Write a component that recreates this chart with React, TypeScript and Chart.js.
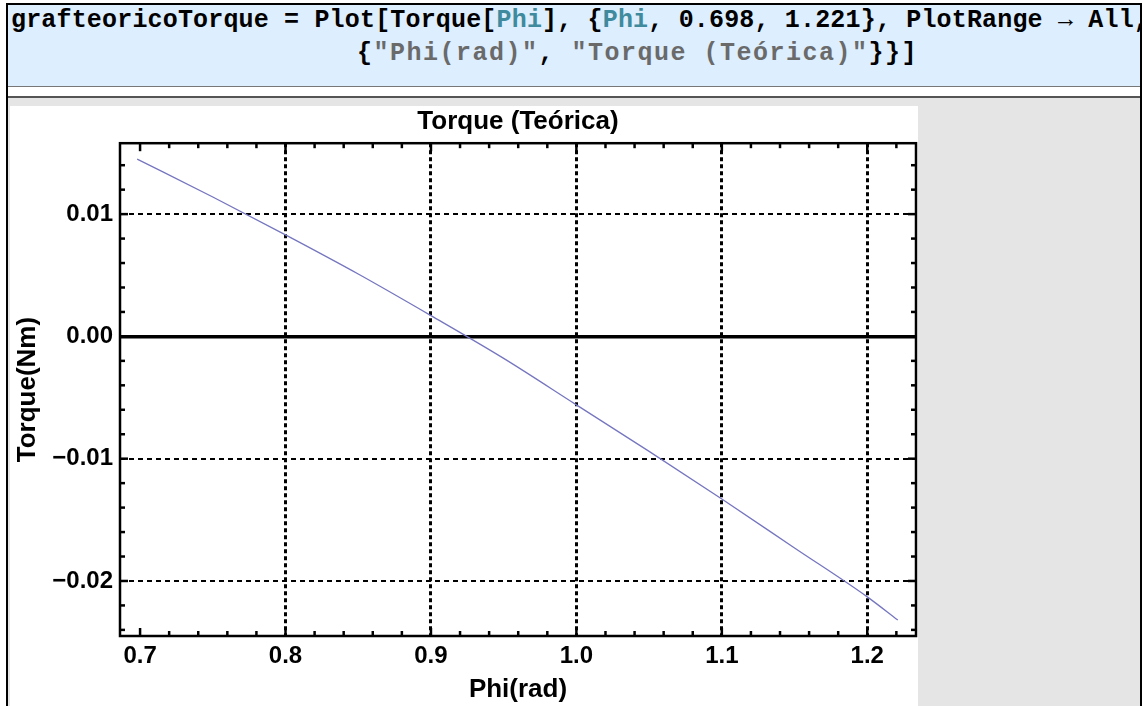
import React, { useEffect, useRef } from "react";
import { Chart, registerables } from "chart.js";

Chart.register(...registerables);

// ---- data ----
const phiValues = [0.698, 0.75, 0.8, 0.85, 0.9, 0.95, 1.0, 1.05, 1.1, 1.15, 1.2, 1.221];
const torqueValues = [0.0145, 0.0114, 0.0083, 0.0051, 0.0017, -0.0018, -0.0056, -0.0094, -0.0133, -0.0173, -0.0213, -0.0232];

const xTickValues = [0.7, 0.8, 0.9, 1.0, 1.1, 1.2];
const xTickLabels = ["0.7", "0.8", "0.9", "1.0", "1.1", "1.2"];
const yTickValues = [-0.02, -0.01, 0, 0.01];
const yTickLabels = ["\u22120.02", "\u22120.01", "0.00", "0.01"];
const xRange = [0.6862, 1.2335];
const yRange = [-0.0245, 0.0158];
const xMinorStep = 0.02;
const yMinorStep = 0.002;

const chartTitle = "Torque (Teórica)";
const xTitle = "Phi(rad)";
const yTitle = "Torque(Nm)";

const FONT = "'Liberation Sans', Arial, sans-serif";

const isMajor = (list: number[], v: number) => list.some((m) => Math.abs(m - v) < 1e-9);

const framePlugin = {
  id: "mmaFrame",
  afterDraw(chart: any) {
    const { ctx, chartArea: a, scales } = chart;
    const xs = scales.x;
    const ys = scales.y;
    ctx.save();
    ctx.strokeStyle = "#000";
    ctx.lineCap = "butt";
    ctx.lineWidth = 2.5;
    const seg = (x1: number, y1: number, x2: number, y2: number) => {
      ctx.beginPath();
      ctx.moveTo(x1, y1);
      ctx.lineTo(x2, y2);
      ctx.stroke();
    };
    for (let k = Math.ceil(xs.min / xMinorStep - 1e-9); k * xMinorStep <= xs.max + 1e-12; k++) {
      const v = k * xMinorStep;
      const px = xs.getPixelForValue(v);
      const len = isMajor(xTickValues, v) ? 8 : 5;
      seg(px, a.bottom, px, a.bottom - len);
      seg(px, a.top, px, a.top + len);
    }
    for (let k = Math.ceil(ys.min / yMinorStep - 1e-9); k * yMinorStep <= ys.max + 1e-12; k++) {
      const v = k * yMinorStep;
      const py = ys.getPixelForValue(v);
      const len = isMajor(yTickValues, v) ? 8 : 5;
      seg(a.left, py, a.left + len, py);
      seg(a.right, py, a.right - len, py);
    }
    ctx.lineWidth = 2.5;
    ctx.strokeRect(a.left, a.top, a.right - a.left, a.bottom - a.top);
    ctx.restore();
  },
};

function TorqueChart() {
  const ref = useRef<HTMLCanvasElement | null>(null);
  useEffect(() => {
    if (!ref.current) return;
    const chart = new Chart(ref.current, {
      type: "line",
      data: {
        datasets: [
          {
            data: phiValues.map((x, i) => ({ x, y: torqueValues[i] })),
            borderColor: "#7676c0",
            borderWidth: 1.3,
            pointRadius: 0,
            fill: false,
            cubicInterpolationMode: "monotone",
          },
        ],
      },
      options: {
        animation: false,
        responsive: false,
        events: [],
        layout: { padding: { left: 0, right: 2, top: 0, bottom: 0 } },
        plugins: {
          legend: { display: false },
          tooltip: { enabled: false },
          title: {
            display: true,
            fullSize: false,
            text: chartTitle,
            color: "#000",
            font: { family: FONT, size: 26, weight: "bold" },
            padding: { top: 0, bottom: 6 },
          },
        },
        scales: {
          x: {
            type: "linear",
            min: xRange[0],
            max: xRange[1],
            afterBuildTicks: (scale: any) => {
              scale.ticks = xTickValues.map((value) => ({ value }));
            },
            afterFit: (scale: any) => {
              scale.height = 70;
            },
            ticks: {
              autoSkip: false,
              maxRotation: 0,
              padding: 6,
              color: "#000",
              font: { family: FONT, size: 24, weight: "bold" },
              callback: (_v: any, i: number) => xTickLabels[i],
            },
            grid: {
              drawTicks: false,
              lineWidth: 3,
              color: (c: any) => (c.tick && Math.abs(c.tick.value - 0.7) < 1e-9 ? "rgba(0,0,0,0)" : "#000"),
            },
            border: { display: false, dash: [4, 3] },
            title: {
              display: true,
              text: xTitle,
              color: "#000",
              font: { family: FONT, size: 26, weight: "bold" },
              padding: { top: 0, bottom: 1 },
            },
          },
          y: {
            type: "linear",
            min: yRange[0],
            max: yRange[1],
            afterBuildTicks: (scale: any) => {
              scale.ticks = yTickValues.map((value) => ({ value }));
            },
            afterFit: (scale: any) => {
              scale.width = 110;
            },
            ticks: {
              autoSkip: false,
              padding: 7,
              color: "#000",
              font: { family: FONT, size: 24, weight: "bold" },
              callback: (_v: any, i: number) => yTickLabels[i],
            },
            grid: {
              drawTicks: false,
              color: "#000",
              lineWidth: (c: any) => (c.tick && c.tick.value === 0 ? 3.5 : 2),
            },
            border: {
              display: false,
              dash: (c: any) => (c.tick && c.tick.value === 0 ? [] : [5, 4]),
            },
            title: {
              display: true,
              text: yTitle,
              color: "#000",
              font: { family: FONT, size: 26, weight: "bold" },
              padding: { top: 2, bottom: 0 },
            },
          },
        },
      },
      plugins: [framePlugin],
    } as any);
    return () => chart.destroy();
  }, []);
  return <canvas ref={ref} width={908} height={600} style={{ display: "block", width: 908, height: 600 }} />;
}

const MONO = "'Liberation Mono', 'Courier New', monospace";
const teal = "#3f8a9c";
const grey = "#6a6a6a";

export default function App() {
  return (
    <div style={{ position: "absolute", left: 0, top: 0, width: 1145, height: 706, overflow: "hidden", background: "#fff" }}>
      {/* outer cell border */}
      <div style={{ position: "absolute", left: 6, top: 3, width: 1136, height: 710, background: "#000" }} />
      {/* input cell (light blue) */}
      <div
        style={{
          position: "absolute",
          left: 8,
          top: 5,
          width: 1132,
          height: 81,
          background: "#ddeeff",
          borderBottom: "1px solid #777",
          overflow: "hidden",
          fontFamily: MONO,
          fontWeight: "bold",
          fontSize: 25,
          lineHeight: "33px",
          color: "#000",
          whiteSpace: "pre",
        }}
      >
        <div style={{ position: "absolute", left: 3, top: -1, letterSpacing: "0.17px" }}>
          {"grafteoricoTorque = Plot[Torque["}
          <span style={{ color: teal }}>Phi</span>
          {"], {"}
          <span style={{ color: teal }}>Phi</span>
          {", 0.698, 1.221}, PlotRange \u2192 All,"}
        </div>
        <div style={{ position: "absolute", left: 349, top: 32, letterSpacing: "1.5px" }}>
          {"{"}
          <span style={{ color: grey }}>{'"Phi(rad)"'}</span>
          {", "}
          <span style={{ color: grey }}>{'"Torque (Teórica)"'}</span>
          {"}}]"}
        </div>
      </div>
      {/* white strip between cells */}
      <div style={{ position: "absolute", left: 8, top: 87, width: 1132, height: 9, background: "#fff" }} />
      <div style={{ position: "absolute", left: 8, top: 96, width: 1132, height: 2, background: "#555" }} />
      {/* output area */}
      <div style={{ position: "absolute", left: 8, top: 98, width: 1132, height: 620, background: "#e5e5e5" }} />
      <div style={{ position: "absolute", left: 10, top: 106, width: 908, height: 600, background: "#fff" }}>
        <TorqueChart />
      </div>
    </div>
  );
}
